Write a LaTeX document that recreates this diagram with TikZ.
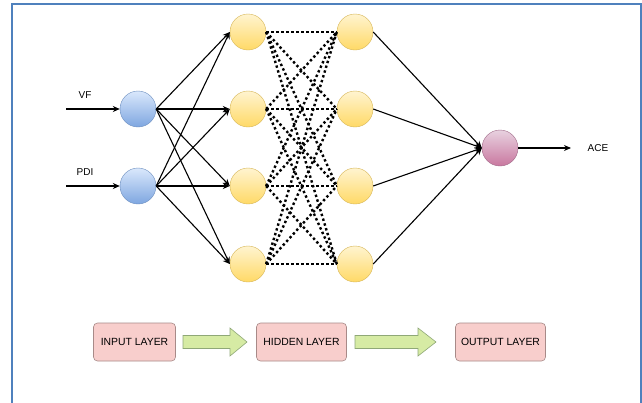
\documentclass[tikz,border=0pt]{standalone}
\usepackage{fontspec}
\setmainfont{Liberation Sans}
\usetikzlibrary{arrows.meta}
\definecolor{frameblue}{HTML}{4F81BD}
\definecolor{bluetop}{HTML}{DAE8FC}
\definecolor{bluebot}{HTML}{7EA6E0}
\definecolor{blueline}{HTML}{6C8EBF}
\definecolor{yeltop}{HTML}{FFF4D0}
\definecolor{yelbot}{HTML}{FFD966}
\definecolor{yelline}{HTML}{D6B656}
\definecolor{pinktop}{HTML}{E8D2E0}
\definecolor{pinkbot}{HTML}{C9779F}
\definecolor{pinkline}{HTML}{A06A88}
\definecolor{boxfill}{HTML}{F8CECC}
\definecolor{boxline}{HTML}{A88A88}
\definecolor{arrfill}{HTML}{D6EBA4}
\definecolor{arrline}{HTML}{8FA877}
\tikzset{
  neuron/.style={circle, minimum size=36pt, inner sep=0pt},
  inneuron/.style={neuron, draw=blueline, top color=bluetop, bottom color=bluebot},
  hidneuron/.style={neuron, draw=yelline, top color=yeltop, bottom color=yelbot},
  outneuron/.style={neuron, draw=pinkline, top color=pinktop, bottom color=pinkbot},
  conn/.style={line width=1.1pt, -{Stealth[length=7pt,width=6pt]}},
  dotconn/.style={line width=2.4pt, dash pattern=on 2.4pt off 2.6pt},
  lbl/.style={font=\fontsize{10}{12}\selectfont, inner sep=0pt},
  layerbox/.style={draw=boxline, fill=boxfill, rounded corners=4pt, minimum height=38pt, line width=0.6pt, font=\fontsize{10.4}{12}\selectfont},
  bigarrow/.style={draw=arrline, fill=arrfill, line width=0.6pt},
}
\begin{document}
\begin{tikzpicture}[x=1pt,y=-1pt]
\useasboundingbox (0,0) rectangle (642,402);
\fill[white] (0,0) rectangle (642,402);
% frame
\draw[frameblue, line width=2pt] (12,410) -- (12,4) -- (641,4) -- (641,410);

% input neurons
\node[inneuron] (vf) at (138,109) {};
\node[inneuron] (pdi) at (138,186) {};
% hidden layer 1
\node[hidneuron] (a1) at (248,32) {};
\node[hidneuron] (a2) at (248,109) {};
\node[hidneuron] (a3) at (248,186) {};
\node[hidneuron] (a4) at (248,264) {};
% hidden layer 2
\node[hidneuron] (b1) at (355,32) {};
\node[hidneuron] (b2) at (355,109) {};
\node[hidneuron] (b3) at (355,186) {};
\node[hidneuron] (b4) at (355,264) {};
% output
\node[outneuron] (out) at (500,148) {};

% labels
\node[lbl] (vflbl) at (85,95) {VF};
\node[lbl] (pdilbl) at (85,172) {PDI};
\node[lbl] (acelbl) at (598,148) {ACE};
\coordinate (vfin) at (66,109);
\coordinate (pdiin) at (66,186);
\coordinate (aceout) at (571,148);

\draw[conn] (vfin) -- (vf.west);
\draw[conn] (pdiin) -- (pdi.west);
\draw[conn] (out.east) -- (aceout);

% input -> hidden 1
\foreach \i in {vf,pdi}{
  \foreach \j in {a1,a2,a3,a4}{
    \draw[conn] (\i.east) -- (\j.west);
  }
}
% hidden 1 -> hidden 2
\foreach \i in {a1,a2,a3,a4}{
  \foreach \j in {b1,b2,b3,b4}{
    \draw[dotconn] (\i.east) -- (\j.west);
  }
}
% hidden 2 -> output
\foreach \j in {b1,b2,b3,b4}{
  \draw[conn] (\j.east) -- (out.west);
}

% layer legend
\node[layerbox, minimum width=82pt] (inbox) at (134.5,342) {INPUT LAYER};
\node[layerbox, minimum width=90pt] (hidbox) at (301.5,342) {HIDDEN LAYER};
\node[layerbox, minimum width=90pt] (outbox) at (500.5,342) {OUTPUT LAYER};

\draw[bigarrow] (183,335.5) -- (230,335.5) -- (230,328) -- (247,342) -- (230,356) -- (230,348.5) -- (183,348.5) -- cycle;
\draw[bigarrow] (355,335.5) -- (418,335.5) -- (418,328) -- (436,342) -- (418,356) -- (418,348.5) -- (355,348.5) -- cycle;
\end{tikzpicture}
\end{document}
